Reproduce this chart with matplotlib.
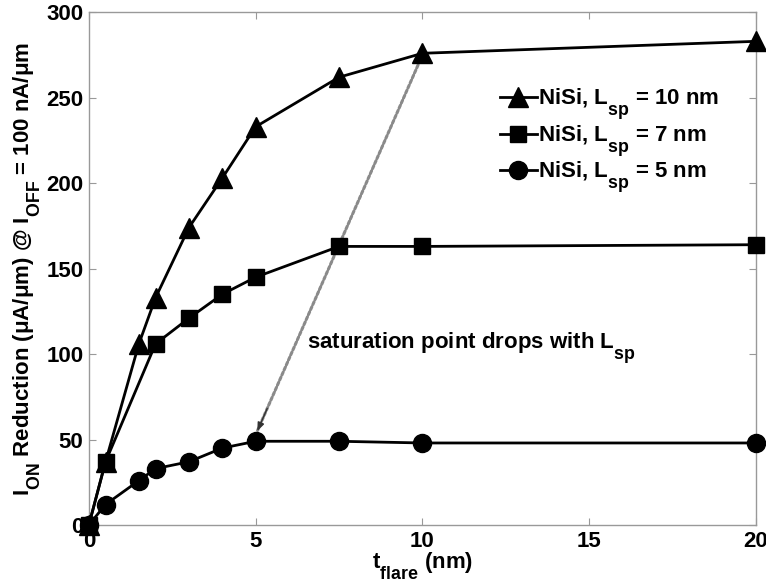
import numpy as np
import matplotlib
matplotlib.use("Agg")
import matplotlib.pyplot as plt
import matplotlib._mathtext as mathtext_internal

# values
t_flare_10 = [0, 0.5, 1.5, 2, 3, 4, 5, 7.5, 10, 20]
ion_red_10 = [0, 37, 106, 133, 174, 203, 233, 262, 276, 283]

t_flare_7 = [0, 0.5, 2, 3, 4, 5, 7.5, 10, 20]
ion_red_7 = [0, 37, 106, 121, 135, 145, 163, 163, 164]

t_flare_5 = [0, 0.5, 1.5, 2, 3, 4, 5, 7.5, 10, 20]
ion_red_5 = [0, 12, 26, 33, 37, 45, 49, 49, 48, 48]

labels = [r"NiSi, L$_{\mathregular{sp}}$ = 10 nm",
          r"NiSi, L$_{\mathregular{sp}}$ = 7 nm",
          r"NiSi, L$_{\mathregular{sp}}$ = 5 nm"]

x_ticks = [0, 5, 10, 15, 20]
y_ticks = [0, 50, 100, 150, 200, 250, 300]

arrow_from = (10, 275)
arrow_to = (5.05, 55)

# subscripts in the original are bigger and sit lower than mathtext default
mathtext_internal.SHRINK_FACTOR = 0.8
mathtext_internal.FontConstantsBase.sub1 = 0.95

plt.rcParams["font.family"] = ["Liberation Sans", "DejaVu Sans"]
plt.rcParams["font.weight"] = "bold"
plt.rcParams["mathtext.fontset"] = "custom"
plt.rcParams["mathtext.rm"] = "Liberation Sans:bold"
plt.rcParams["mathtext.it"] = "Liberation Sans:bold"
plt.rcParams["mathtext.bf"] = "Liberation Sans:bold"

fig = plt.figure(figsize=(7.66, 5.84), dpi=100)
ax = fig.add_axes([0.116, 0.101, 0.871, 0.878])

lw = 2.0
ax.plot(t_flare_10, ion_red_10, color="black", lw=lw, marker="^", ms=14,
        label=labels[0], clip_on=False, zorder=3)
ax.plot(t_flare_7, ion_red_7, color="black", lw=lw, marker="s", ms=11,
        label=labels[1], clip_on=False, zorder=3)
ax.plot(t_flare_5, ion_red_5, color="black", lw=lw, marker="o", ms=13,
        label=labels[2], clip_on=False, zorder=3)

# dotted gray line + small dark head between saturation points
ax.annotate("", xy=arrow_to, xytext=arrow_from,
            arrowprops=dict(arrowstyle="-", color="#8a8a8a", lw=2.2,
                            linestyle=(0, (1, 0.8)), shrinkA=0, shrinkB=0),
            zorder=2)
d = np.subtract(arrow_to, arrow_from)
head_start = tuple(np.array(arrow_to) - 0.06 * d)
ax.annotate("", xy=arrow_to, xytext=head_start,
            arrowprops=dict(arrowstyle="-|>,head_length=0.5,head_width=0.2",
                            color="#333333", lw=1.0, shrinkA=0, shrinkB=0),
            zorder=2)
ax.text(6.55, 103.5, r"saturation point drops with L$_{\mathregular{sp}}$",
        fontsize=16, fontweight="bold", va="baseline", ha="left")

ax.set_xlim(0, 20)
ax.set_ylim(0, 300)
ax.set_xticks(x_ticks)
ax.set_yticks(y_ticks)
ax.tick_params(direction="in", length=5, color="#999999", labelsize=16,
               top=True, right=True, pad=4)
for lab in ax.get_xticklabels() + ax.get_yticklabels():
    lab.set_fontweight("bold")
for sp in ax.spines.values():
    sp.set_color("#999999")
    sp.set_linewidth(1.0)

ax.set_xlabel(r"t$_{\mathregular{flare}}$ (nm)", fontsize=16, fontweight="bold", labelpad=-1)
ax.set_ylabel(r"I$_{\mathregular{ON}}$ Reduction ($\mathregular{\mu}$A/$\mathregular{\mu}$m) @ I$_{\mathregular{OFF}}$ = 100 nA/$\mathregular{\mu}$m",
              fontsize=16, fontweight="bold", labelpad=2)

leg = ax.legend(loc="upper left", bbox_to_anchor=(0.603, 0.872), frameon=False,
                fontsize=16, handlelength=1.65, handletextpad=0.05,
                labelspacing=0.05, borderaxespad=0)

fig.savefig("out.png", dpi=100)
